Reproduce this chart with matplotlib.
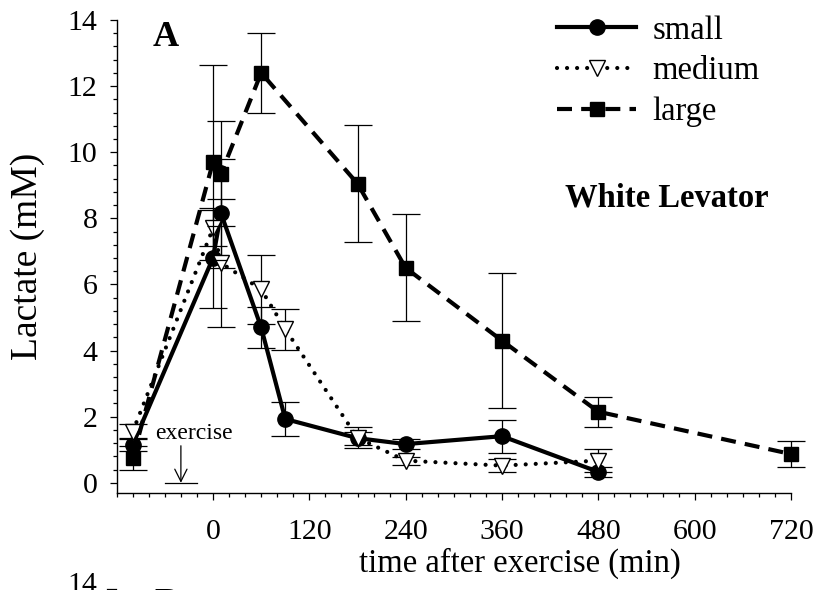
import matplotlib
matplotlib.use("Agg")
import matplotlib.pyplot as plt
from matplotlib.ticker import MultipleLocator, FixedLocator
from matplotlib.lines import Line2D

plt.rcParams['font.family'] = ['Liberation Serif', 'DejaVu Serif']

# Blood lactate after exercise, white levator muscle, three size classes
time_small = [-100, 0, 10, 60, 90, 180, 240, 360, 480]
lact_small = [1.15, 6.8, 8.15, 4.7, 1.93, 1.35, 1.17, 1.41, 0.33]
err_small = [0.2, 1.5, 1.65, 0.62, 0.5, 0.2, 0.15, 0.5, 0.15]

time_medium = [-100, 0, 10, 60, 90, 180, 240, 360, 480]
lact_medium = [1.55, 7.7, 6.65, 5.85, 4.65, 1.36, 0.67, 0.52, 0.67]
err_medium = [0.22, 0.55, 1.95, 1.05, 0.62, 0.32, 0.12, 0.2, 0.35]

time_large = [-100, 0, 10, 60, 180, 240, 360, 480, 720]
lact_large = [0.75, 9.7, 9.35, 12.4, 9.05, 6.5, 4.3, 2.15, 0.87]
err_large = [0.36, 2.95, 1.58, 1.2, 1.77, 1.62, 2.05, 0.45, 0.4]

x_ticks = [0, 120, 240, 360, 480, 600, 720]
y_ticks = [0, 2, 4, 6, 8, 10, 12, 14]
exercise_window = [-60, -20]
exercise_arrow_x = -40

fig = plt.figure(figsize=(8.17, 5.90), dpi=100)
ax = fig.add_axes([0.1428, 0.1649, 0.8254, 0.8012])

series = [
    ("small", time_small, lact_small, err_small,
     dict(color="black", lw=3.0, ls="-", marker="o", ms=11,
          mfc="black", mec="black")),
    ("medium", time_medium, lact_medium, err_medium,
     dict(color="black", lw=3.0, ls=(0, (0.01, 2.4)), dash_capstyle="round",
          marker="v", ms=12, mfc="white", mec="black", mew=1.0)),
    ("large", time_large, lact_large, err_large,
     dict(color="black", lw=3.0, ls=(0, (3.6, 2.2)), marker="s", ms=10.5,
          mfc="black", mec="black")),
]

z = 2
for name, t, y, e, style in series:
    ax.errorbar(t, y, yerr=e, fmt="none", ecolor="black", elinewidth=0.9,
                capsize=10, capthick=0.9, zorder=z, clip_on=False)
    ax.plot(t, y, label=name, zorder=z + 1, clip_on=False, **style)
    z += 2

ax.set_xlim(-120, 720)
ax.set_ylim(-0.3, 14)
ax.xaxis.set_major_locator(FixedLocator(x_ticks))
ax.xaxis.set_minor_locator(MultipleLocator(20))
ax.yaxis.set_major_locator(FixedLocator(y_ticks))
ax.yaxis.set_minor_locator(MultipleLocator(0.4))

for side in ("top", "right"):
    ax.spines[side].set_visible(False)
for side in ("left", "bottom"):
    ax.spines[side].set_linewidth(1.0)

ax.tick_params(which="major", direction="out", length=4.8, width=0.9,
               labelsize=21.5)
ax.tick_params(which="minor", direction="out", length=2.9, width=0.9)
ax.tick_params(axis="x", which="major", pad=14)
ax.tick_params(axis="y", which="major", pad=9)

ax.set_xlabel("time after exercise (min)", fontsize=23.5)
ax.xaxis.label.set_verticalalignment("center")
ax.xaxis.set_label_coords(0.598, -0.149)
ax.set_ylabel("Lactate (mM)", fontsize=27)
ax.yaxis.label.set_verticalalignment("center")
ax.yaxis.set_label_coords(-0.1315, 0.5)

ax.text(0.0727, 0.963, "A", transform=ax.transAxes, fontsize=26,
        fontweight="bold", ha="center", va="center")
ax.text(0.8157, 0.6228, "White Levator", transform=ax.transAxes,
        fontsize=23.5, fontweight="bold", ha="center", va="center")

# exercise marker: bar along the time axis with a downward arrow
ax.text(0.115, 0.1263, "exercise", transform=ax.transAxes, fontsize=17,
        ha="center", va="center")
ax.plot(exercise_window, [0, 0], color="black", lw=0.9, zorder=1)
ax.annotate("", xy=(exercise_arrow_x, 0), xytext=(exercise_arrow_x, 1.12),
            arrowprops=dict(arrowstyle="->", lw=0.9, color="black",
                            mutation_scale=22, shrinkA=0, shrinkB=0))

ax.legend(loc="upper left", bbox_to_anchor=(0.6814, 0.974),
          bbox_transform=fig.transFigure, frameon=False, fontsize=23.5,
          handlelength=2.44, handletextpad=0.5, labelspacing=0.31,
          borderpad=0, borderaxespad=0)

# top of the following panel, cut off by the figure edge
fig.text(0.1187, 0.031, "14", fontsize=21.5, ha="right", va="top")
fig.text(0.2032, 0.003, "B", fontsize=26, fontweight="bold",
         ha="center", va="top")
fig.add_artist(Line2D([107 / 817, 116 / 817], [1 - 589 / 590] * 2,
                      color="black", lw=0.9))

fig.savefig("out.png", dpi=100)
